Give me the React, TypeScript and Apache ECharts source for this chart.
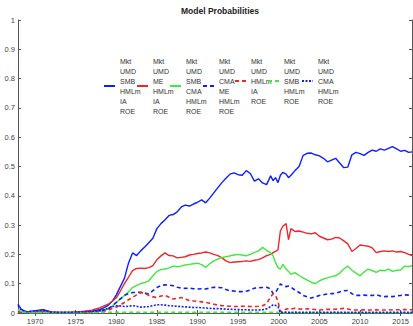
import React, { useEffect, useRef } from "react";
import * as echarts from "echarts";

const title = "Model Probabilities";

const seriesNames = [
  "Mkt UMD SMB HMLm IA ROE",
  "Mkt UMD ME HMLm IA ROE",
  "Mkt UMD SMB CMA HMLm ROE",
  "Mkt UMD CMA ME HMLm ROE",
  "Mkt UMD HMLm IA ROE",
  "Mkt UMD SMB HMLm ROE",
  "Mkt UMD CMA HMLm ROE",
];

const yearTicks = [1970, 1975, 1980, 1985, 1990, 1995, 2000, 2005, 2010, 2015];

const years = [
  1967.9, 1968.3, 1969, 1970, 1971, 1972, 1973, 1974, 1975, 1976, 1977, 1978, 1978.5, 1979, 1979.5,
  1980, 1980.5, 1981, 1981.5, 1982, 1982.5, 1983, 1983.5, 1984, 1984.5, 1985, 1985.5, 1986, 1986.5,
  1987, 1987.5, 1988, 1988.5, 1989, 1989.5, 1990, 1990.5, 1991, 1991.5, 1992, 1992.5, 1993, 1993.5,
  1994, 1994.5, 1995, 1995.5, 1996, 1996.5, 1997, 1997.5, 1998, 1998.5, 1999, 1999.3, 1999.6, 1999.9,
  2000.2, 2000.5, 2000.9, 2001.2, 2001.5, 2002, 2002.5, 2003, 2003.5, 2004, 2004.5, 2005, 2005.5,
  2006, 2006.5, 2007, 2007.5, 2008, 2008.5, 2009, 2009.5, 2010, 2010.5, 2011, 2011.5, 2012, 2012.5,
  2013, 2013.5, 2014, 2014.5, 2015, 2015.5, 2016, 2016.4,
];

const blueSolid = [
  0.030, 0.012, 0.004, 0.008, 0.011, 0.004, 0.002, 0.002, 0.003, 0.004, 0.006, 0.012, 0.018, 0.026, 0.040,
  0.062, 0.090, 0.118, 0.170, 0.205, 0.196, 0.212, 0.225, 0.240, 0.255, 0.288, 0.305, 0.318, 0.333,
  0.336, 0.345, 0.362, 0.368, 0.365, 0.372, 0.378, 0.386, 0.376, 0.392, 0.410, 0.428, 0.445, 0.460,
  0.474, 0.478, 0.472, 0.470, 0.486, 0.476, 0.450, 0.458, 0.444, 0.438, 0.468, 0.452, 0.462, 0.445,
  0.470, 0.480, 0.474, 0.462, 0.470, 0.486, 0.500, 0.538, 0.545, 0.546, 0.540, 0.536, 0.528,
  0.516, 0.522, 0.528, 0.512, 0.496, 0.498, 0.540, 0.548, 0.544, 0.538, 0.548, 0.556, 0.552, 0.560,
  0.556, 0.562, 0.568, 0.560, 0.552, 0.555, 0.548, 0.550,
];

const redSolid = [
  0.004, 0.003, 0.002, 0.004, 0.006, 0.003, 0.002, 0.002, 0.003, 0.006, 0.010, 0.018, 0.024, 0.030, 0.040,
  0.052, 0.075, 0.100, 0.122, 0.145, 0.152, 0.153, 0.152, 0.155, 0.162, 0.182, 0.195, 0.205, 0.196,
  0.195, 0.188, 0.190, 0.192, 0.198, 0.200, 0.203, 0.205, 0.208, 0.205, 0.200, 0.196, 0.188, 0.178,
  0.172, 0.174, 0.175, 0.176, 0.178, 0.176, 0.180, 0.182, 0.188, 0.196, 0.200, 0.206, 0.210, 0.215,
  0.280, 0.296, 0.305, 0.250, 0.288, 0.278, 0.280, 0.276, 0.272, 0.270, 0.274, 0.262, 0.256,
  0.250, 0.252, 0.258, 0.256, 0.246, 0.236, 0.210, 0.220, 0.232, 0.230, 0.228, 0.222, 0.206, 0.210,
  0.212, 0.210, 0.212, 0.208, 0.210, 0.206, 0.200, 0.196,
];

const greenSolid = [
  0.008, 0.003, 0.001, 0.001, 0.002, 0.001, 0.001, 0.001, 0.001, 0.002, 0.003, 0.006, 0.009, 0.014, 0.024,
  0.036, 0.048, 0.060, 0.072, 0.087, 0.094, 0.100, 0.104, 0.110, 0.126, 0.142, 0.148, 0.150, 0.154,
  0.160, 0.158, 0.160, 0.164, 0.166, 0.168, 0.170, 0.165, 0.156, 0.168, 0.178, 0.184, 0.190, 0.192,
  0.195, 0.198, 0.200, 0.198, 0.195, 0.200, 0.207, 0.212, 0.224, 0.214, 0.205, 0.195, 0.172, 0.155,
  0.150, 0.166, 0.150, 0.142, 0.132, 0.138, 0.128, 0.120, 0.112, 0.105, 0.100, 0.110, 0.116,
  0.120, 0.124, 0.127, 0.136, 0.150, 0.160, 0.146, 0.136, 0.127, 0.140, 0.150, 0.145, 0.139, 0.146,
  0.144, 0.150, 0.142, 0.146, 0.147, 0.160, 0.158, 0.162,
];

const blueDashed = [
  0.006, 0.002, 0.001, 0.001, 0.002, 0.001, 0.001, 0.001, 0.001, 0.002, 0.004, 0.008, 0.010, 0.014, 0.024,
  0.036, 0.048, 0.060, 0.066, 0.070, 0.070, 0.071, 0.068, 0.065, 0.076, 0.087, 0.094, 0.096, 0.095,
  0.093, 0.088, 0.085, 0.084, 0.085, 0.083, 0.082, 0.083, 0.082, 0.085, 0.088, 0.087, 0.086, 0.080,
  0.076, 0.075, 0.073, 0.073, 0.074, 0.078, 0.085, 0.086, 0.087, 0.088, 0.082, 0.066, 0.070, 0.084,
  0.099, 0.094, 0.090, 0.092, 0.088, 0.078, 0.070, 0.060, 0.055, 0.051, 0.055, 0.060, 0.062,
  0.065, 0.066, 0.067, 0.072, 0.076, 0.077, 0.066, 0.060, 0.060, 0.061, 0.060, 0.060, 0.062, 0.058,
  0.056, 0.057, 0.056, 0.058, 0.060, 0.062, 0.061, 0.060,
];

const redDashed = [
  0.003, 0.001, 0.001, 0.001, 0.002, 0.001, 0.001, 0.001, 0.001, 0.001, 0.002, 0.004, 0.006, 0.010, 0.015,
  0.020, 0.028, 0.036, 0.045, 0.053, 0.062, 0.070, 0.068, 0.060, 0.055, 0.053, 0.058, 0.060, 0.054,
  0.048, 0.050, 0.053, 0.048, 0.042, 0.041, 0.040, 0.038, 0.036, 0.033, 0.030, 0.027, 0.025, 0.024,
  0.023, 0.022, 0.022, 0.023, 0.023, 0.022, 0.022, 0.023, 0.025, 0.032, 0.055, 0.066, 0.060, 0.040,
  0.004, 0.008, 0.013, 0.015, 0.014, 0.016, 0.014, 0.013, 0.014, 0.013, 0.012, 0.010, 0.011,
  0.013, 0.012, 0.013, 0.014, 0.016, 0.014, 0.010, 0.010, 0.010, 0.011, 0.010, 0.010, 0.011, 0.010,
  0.010, 0.011, 0.010, 0.011, 0.011, 0.012, 0.011, 0.011,
];

const greenDashed = [
  0.012, 0.004, 0.002, 0.002, 0.002, 0.001, 0.001, 0.001, 0.001, 0.001, 0.001, 0.002, 0.002, 0.002, 0.002,
  0.002, 0.002, 0.002, 0.002, 0.002, 0.002, 0.002, 0.002, 0.002, 0.002, 0.002, 0.002, 0.002, 0.002,
  0.002, 0.002, 0.002, 0.002, 0.002, 0.002, 0.002, 0.002, 0.002, 0.002, 0.002, 0.002, 0.002, 0.002,
  0.002, 0.002, 0.002, 0.002, 0.002, 0.002, 0.002, 0.002, 0.002, 0.002, 0.002, 0.002, 0.002, 0.002,
  0.001, 0.001, 0.001, 0.001, 0.001, 0.001, 0.001, 0.001, 0.001, 0.001, 0.001, 0.001, 0.001,
  0.001, 0.001, 0.001, 0.001, 0.001, 0.001, 0.001, 0.001, 0.001, 0.001, 0.001, 0.001, 0.001, 0.001,
  0.001, 0.001, 0.001, 0.001, 0.001, 0.001, 0.001, 0.001,
];

const blueDashDot = [
  0.026, 0.010, 0.004, 0.007, 0.009, 0.003, 0.002, 0.002, 0.003, 0.004, 0.005, 0.008, 0.012, 0.016, 0.021,
  0.025, 0.024, 0.022, 0.023, 0.025, 0.023, 0.020, 0.021, 0.022, 0.025, 0.028, 0.028, 0.027, 0.025,
  0.024, 0.023, 0.022, 0.021, 0.020, 0.019, 0.019, 0.018, 0.017, 0.016, 0.015, 0.015, 0.014, 0.013,
  0.013, 0.012, 0.012, 0.011, 0.011, 0.010, 0.010, 0.010, 0.011, 0.014, 0.022, 0.028, 0.026, 0.022,
  0.002, 0.002, 0.003, 0.002, 0.002, 0.003, 0.002, 0.002, 0.002, 0.003, 0.002, 0.002, 0.002,
  0.002, 0.002, 0.003, 0.002, 0.002, 0.002, 0.002, 0.002, 0.002, 0.002, 0.002, 0.002, 0.002, 0.002,
  0.002, 0.002, 0.002, 0.002, 0.002, 0.002, 0.002, 0.002,
];

const seriesValues = [blueSolid, redSolid, greenSolid, blueDashed, redDashed, greenDashed, blueDashDot];

const BLUE = "#0d1eff";
const RED = "#f02626";
const GREEN = "#3ee83e";
const seriesColors = [BLUE, RED, GREEN, BLUE, RED, GREEN, BLUE];
const seriesDash: any[] = ["solid", "solid", "solid", [4, 3], [4, 3], [4, 3], [2, 1.5]];
const legendLefts = [103, 136, 169, 202, 234, 267, 301];

const FONT = "'Liberation Sans Narrow', 'Liberation Sans', Arial, sans-serif";
const AXIS_COLOR = "#555";

export default function App() {
  const ref = useRef<HTMLDivElement>(null);

  useEffect(() => {
    if (!ref.current) return;
    const chart = echarts.init(ref.current, null, { renderer: "svg" });

    const series = seriesNames.map((name, k) => ({
      name,
      type: "line",
      xAxisIndex: 0,
      yAxisIndex: 0,
      symbol: "none",
      showSymbol: false,
      data: years.map((y, i) => [y, seriesValues[k][i]]),
      lineStyle: {
        color: seriesColors[k],
        width: k < 3 ? 1.4 : 1.6,
        type: seriesDash[k],
      },
      itemStyle: { color: seriesColors[k] },
      emphasis: { disabled: true },
    }));

    const legends = seriesNames.map((name, k) => ({
      data: [name],
      left: legendLefts[k],
      top: 56,
      orient: "horizontal",
      itemWidth: 11,
      itemHeight: 8,
      padding: 0,
      selectedMode: false,
      itemStyle: { color: "transparent", borderWidth: 0, opacity: 0 },
      lineStyle: { width: 2 },
      formatter: (n: string) => n.split(" ").join("\n"),
      textStyle: {
        fontFamily: FONT,
        fontSize: 7,
        lineHeight: 10,
        color: "#333",
      },
    }));

    const option: any = {
      animation: false,
      backgroundColor: "#fff",
      title: {
        text: title,
        left: 215,
        textAlign: "center",
        top: 1,
        textStyle: { fontFamily: FONT, fontSize: 8.5, fontWeight: "bold", color: "#222" },
      },
      legend: legends,
      grid: { left: 18, right: 1, top: 20, bottom: 13, containLabel: false },
      xAxis: [
        {
          type: "value",
          position: "bottom",
          min: 1967.9,
          max: 2016.4,
          splitLine: { show: false },
          axisLine: { show: true, lineStyle: { color: AXIS_COLOR, width: 1 } },
          axisTick: {
            show: true,
            inside: true,
            length: 3,
            customValues: yearTicks,
            lineStyle: { color: AXIS_COLOR },
          },
          axisLabel: {
            show: true,
            customValues: yearTicks,
            margin: 4,
            fontFamily: FONT,
            fontSize: 7.5,
            color: "#444",
            formatter: (v: number) => String(Math.round(v)),
          },
        },
        {
          type: "value",
          position: "top",
          min: 1967.9,
          max: 2016.4,
          splitLine: { show: false },
          axisLine: { show: true, lineStyle: { color: AXIS_COLOR, width: 1 } },
          axisTick: {
            show: true,
            inside: true,
            length: 3,
            customValues: yearTicks,
            lineStyle: { color: AXIS_COLOR },
          },
          axisLabel: { show: false },
        },
      ],
      yAxis: [
        {
          type: "value",
          position: "left",
          min: 0,
          max: 1,
          interval: 0.1,
          splitLine: { show: false },
          axisLine: { show: true, lineStyle: { color: AXIS_COLOR, width: 1 } },
          axisTick: { show: true, inside: true, length: 3, lineStyle: { color: AXIS_COLOR } },
          axisLabel: {
            margin: 3,
            fontFamily: FONT,
            fontSize: 7.5,
            color: "#444",
            formatter: (v: number) => String(Math.round(v * 10) / 10),
          },
        },
        {
          type: "value",
          position: "right",
          min: 0,
          max: 1,
          interval: 0.1,
          splitLine: { show: false },
          axisLine: { show: true, lineStyle: { color: AXIS_COLOR, width: 1 } },
          axisTick: { show: true, inside: true, length: 3, lineStyle: { color: AXIS_COLOR } },
          axisLabel: { show: false },
        },
      ],
      series,
    };

    chart.setOption(option);
    return () => {
      chart.dispose();
    };
  }, []);

  return (
    <div
      ref={ref}
      style={{ position: "fixed", left: 0, top: 0, width: 413, height: 326, background: "#fff" }}
    />
  );
}
